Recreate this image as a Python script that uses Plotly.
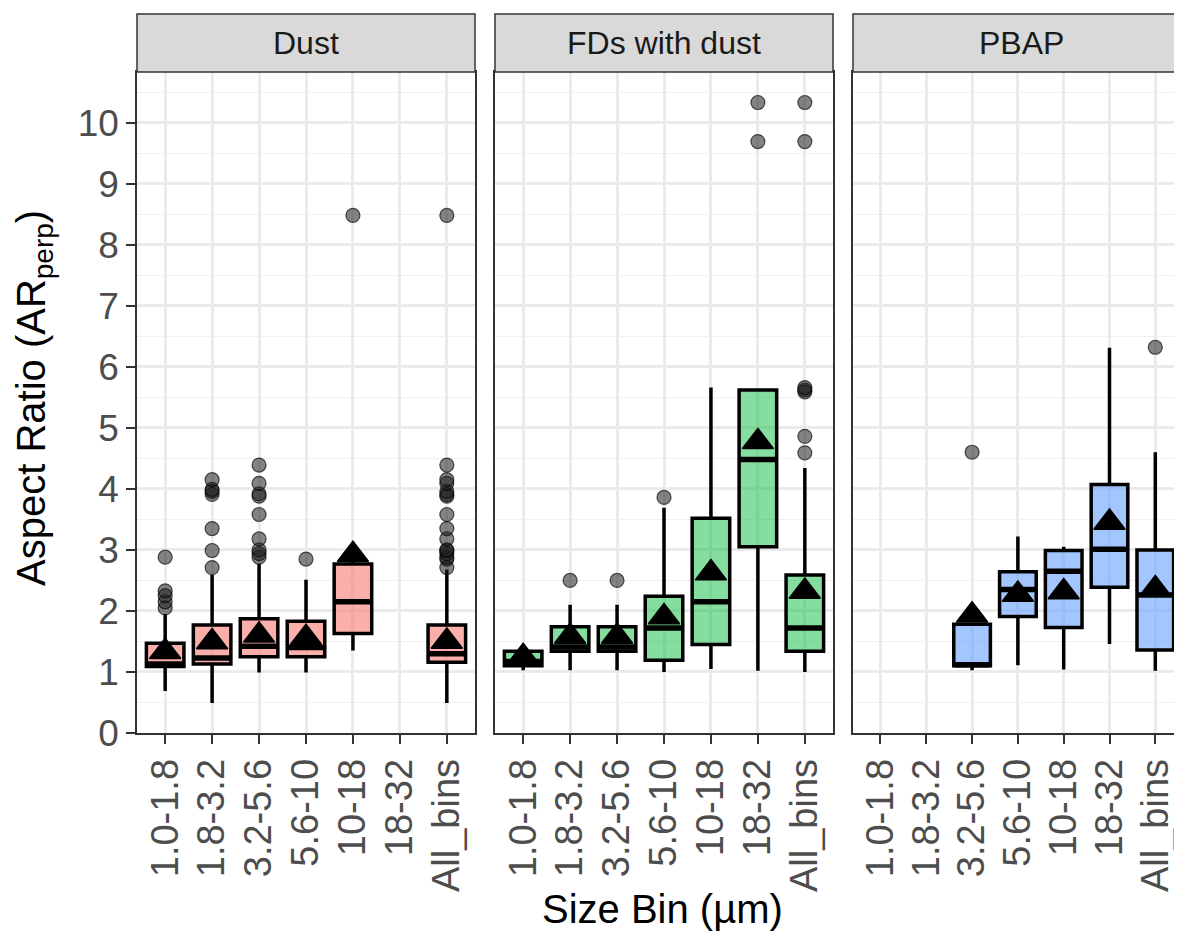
import plotly.graph_objects as go

# The page body has an 8px default margin: size the figure so it fits the
# 1182x939 window exactly, and lay out in window pixels minus that offset.
OFF = 8
W, H = 1182 - 2 * OFF, 939 - 2 * OFF
FONT = "Liberation Sans, Arial, Helvetica, sans-serif"

categories = ["1.0-1.8", "1.8-3.2", "3.2-5.6", "5.6-10", "10-18", "18-32", "All_bins"]
facets = ["Dust", "FDs with dust", "PBAP"]

# ---- Dust ----
dust_cats = ["1.0-1.8", "1.8-3.2", "3.2-5.6", "5.6-10", "10-18", "All_bins"]
dust_q1 = [1.09, 1.13, 1.25, 1.25, 1.63, 1.16]
dust_median = [1.13, 1.23, 1.42, 1.40, 2.15, 1.30]
dust_q3 = [1.47, 1.77, 1.87, 1.83, 2.77, 1.77]
dust_lower = [0.69, 0.49, 0.99, 0.99, 1.35, 0.49]
dust_upper = [1.95, 2.59, 2.77, 2.51, 2.90, 2.68]
dust_mean = [1.33, 1.49, 1.60, 1.56, 2.92, 1.50]
dust_out_cat = (["1.0-1.8"] * 5 + ["1.8-3.2"] * 7 + ["3.2-5.6"] * 9 + ["5.6-10"] + ["10-18"]
                + ["All_bins"] * 16)
dust_out_val = ([2.05, 2.15, 2.25, 2.33, 2.88,
                 2.71, 2.99, 3.35, 3.91, 3.96, 3.99, 4.15,
                 2.88, 2.94, 3.00, 3.18, 3.58, 3.88, 3.92, 4.09, 4.39,
                 2.85,
                 8.48,
                 2.71, 2.85, 2.88, 2.94, 2.99, 3.00, 3.18, 3.35, 3.58, 3.88, 3.91, 3.96,
                 4.09, 4.15, 4.39, 8.48])

# ---- FDs with dust ----
fd_cats = ["1.0-1.8", "1.8-3.2", "3.2-5.6", "5.6-10", "10-18", "18-32", "All_bins"]
fd_q1 = [1.10, 1.34, 1.34, 1.19, 1.45, 3.05, 1.34]
fd_median = [1.17, 1.41, 1.41, 1.72, 2.15, 4.48, 1.72]
fd_q3 = [1.34, 1.74, 1.74, 2.24, 3.52, 5.62, 2.59]
fd_lower = [1.03, 1.03, 1.03, 1.00, 1.05, 1.02, 1.00]
fd_upper = [1.40, 2.10, 2.10, 3.69, 5.66, 5.63, 4.34]
fd_mean = [1.25, 1.58, 1.58, 1.90, 2.62, 4.77, 2.32]
fd_out_cat = (["1.8-3.2"] + ["3.2-5.6"] + ["5.6-10"] + ["18-32"] * 2 + ["All_bins"] * 7)
fd_out_val = [2.50, 2.50, 3.86, 9.69, 10.33, 4.59, 4.86, 5.59, 5.62, 5.66, 9.69, 10.33]

# ---- PBAP ----
pb_cats = ["3.2-5.6", "5.6-10", "10-18", "18-32", "All_bins"]
pb_q1 = [1.10, 1.91, 1.73, 2.39, 1.36]
pb_median = [1.12, 2.35, 2.65, 3.01, 2.26]
pb_q3 = [1.78, 2.64, 2.99, 4.07, 3.00]
pb_lower = [1.03, 1.11, 1.04, 1.46, 1.02]
pb_upper = [1.78, 3.22, 3.05, 6.31, 4.60]
pb_mean = [1.93, 2.27, 2.31, 3.45, 2.36]
pb_out_cat = ["3.2-5.6", "All_bins"]
pb_out_val = [4.60, 6.32]

fills = ["rgba(248,118,109,0.58)", "rgba(0,186,56,0.48)", "rgba(97,156,255,0.58)"]

panels = [
    (dust_cats, dust_q1, dust_median, dust_q3, dust_lower, dust_upper, dust_mean, dust_out_cat, dust_out_val),
    (fd_cats, fd_q1, fd_median, fd_q3, fd_lower, fd_upper, fd_mean, fd_out_cat, fd_out_val),
    (pb_cats, pb_q1, pb_median, pb_q3, pb_lower, pb_upper, pb_mean, pb_out_cat, pb_out_val),
]

fig = go.Figure()
for i, (cats, q1, med, q3, lo, up, mn, oc, ov) in enumerate(panels):
    xa = "x" if i == 0 else f"x{i+1}"
    ya = "y" if i == 0 else f"y{i+1}"
    fig.add_trace(go.Box(
        x=cats, q1=q1, median=med, q3=q3, lowerfence=lo, upperfence=up,
        boxpoints=False, width=0.8, whiskerwidth=0,
        fillcolor=fills[i], line=dict(color="black", width=3.5),
        xaxis=xa, yaxis=ya, showlegend=False, hoverinfo="skip"))
    # thicker median bar (ggplot fatten)
    fig.add_trace(go.Scatter(
        x=cats, y=med, mode="markers", xaxis=xa, yaxis=ya, showlegend=False,
        marker=dict(symbol="line-ew", size=26, color="black",
                    line=dict(width=5.5, color="black")),
        hoverinfo="skip"))
    fig.add_trace(go.Scatter(
        x=oc, y=ov, mode="markers", xaxis=xa, yaxis=ya, showlegend=False,
        marker=dict(size=14, color="rgba(30,30,30,0.55)",
                    line=dict(width=1.2, color="rgba(0,0,0,0.65)")),
        hoverinfo="skip"))
    fig.add_trace(go.Scatter(
        x=cats, y=mn, mode="markers", xaxis=xa, yaxis=ya, showlegend=False,
        marker=dict(symbol="triangle-up", size=27, color="black",
                    line=dict(width=1.5, color="black")),
        hoverinfo="skip"))

# reference window pixels
px_l = [137, 495, 853]
px_r = [475, 833, 1182]
unit = (475 - 137) / 7.2
top_px, bot_px = 72, 733


def fx(px):
    return (px - OFF) / W


def fy(py):
    return 1 - (py - OFF) / H


ydom = [fy(bot_px), fy(top_px)]

GRID = "#EBEBEB"
BORDER = "#333333"
layout = dict(
    width=W, height=H, margin=dict(l=0, r=0, t=0, b=0, autoexpand=False),
    paper_bgcolor="white", plot_bgcolor="white", boxmode="overlay",
    font=dict(family=FONT, color="#4D4D4D"),
)
for i in range(3):
    key = "xaxis" if i == 0 else f"xaxis{i+1}"
    ykey = "yaxis" if i == 0 else f"yaxis{i+1}"
    xr_hi = -0.6 + (px_r[i] - px_l[i]) / unit
    layout[key] = dict(
        domain=[fx(px_l[i]), min(1.0, fx(px_r[i]))], anchor="y" if i == 0 else f"y{i+1}",
        type="category", categoryorder="array", categoryarray=categories,
        tickmode="array", tickvals=categories, ticktext=categories,
        range=[-0.6, xr_hi], showgrid=True, gridcolor=GRID, gridwidth=2.5,
        showline=True, linecolor=BORDER, linewidth=1.5, mirror=True,
        ticks="outside", ticklen=9, tickwidth=2, tickcolor=BORDER,
        tickangle=-90, tickfont=dict(size=38, color="#4D4D4D", family=FONT),
        zeroline=False, fixedrange=True, automargin=False,
    )
    layout[ykey] = dict(
        domain=ydom, anchor="x" if i == 0 else f"x{i+1}",
        range=[0, 10.83], dtick=1, tick0=0,
        showgrid=True, gridcolor=GRID, gridwidth=2.5,
        minor=dict(dtick=0.5, tick0=0, showgrid=True, gridcolor="#F0F0F0", gridwidth=1.3),
        showline=True, linecolor=BORDER, linewidth=1.5, mirror=(i < 2),
        ticks="outside" if i == 0 else "", ticklen=9, tickwidth=2, tickcolor=BORDER,
        showticklabels=(i == 0), tickfont=dict(size=37, color="#4D4D4D", family=FONT),
        zeroline=False, fixedrange=True, automargin=False,
    )
    if i > 0:
        layout[ykey]["matches"] = "y"
fig.update_layout(**layout)

# facet strips
strip_top, strip_bot = 14, 72
for i, name in enumerate(facets):
    x1 = px_r[i] if i < 2 else 1191
    fig.add_shape(type="rect", xref="paper", yref="paper",
                  x0=fx(px_l[i]), x1=fx(x1), y0=fy(strip_bot), y1=fy(strip_top),
                  fillcolor="#D9D9D9", line=dict(color=BORDER, width=1.5), layer="above")
    fig.add_annotation(x=fx((px_l[i] + x1) / 2), y=fy((strip_top + strip_bot) / 2),
                       xref="paper", yref="paper", text=name, showarrow=False,
                       font=dict(size=32, color="#1A1A1A", family=FONT),
                       xanchor="center", yanchor="middle")

fig.add_annotation(x=fx(662), y=fy(909), xref="paper", yref="paper",
                   text="Size Bin (µm)", showarrow=False,
                   font=dict(size=40, color="black", family=FONT),
                   xanchor="center", yanchor="middle")
fig.add_annotation(x=fx(34), y=fy(398), xref="paper", yref="paper",
                   text="Aspect Ratio (AR<sub>perp</sub>)", showarrow=False, textangle=-90,
                   font=dict(size=40, color="black", family=FONT),
                   xanchor="center", yanchor="middle")

fig.write_html("out.html")
